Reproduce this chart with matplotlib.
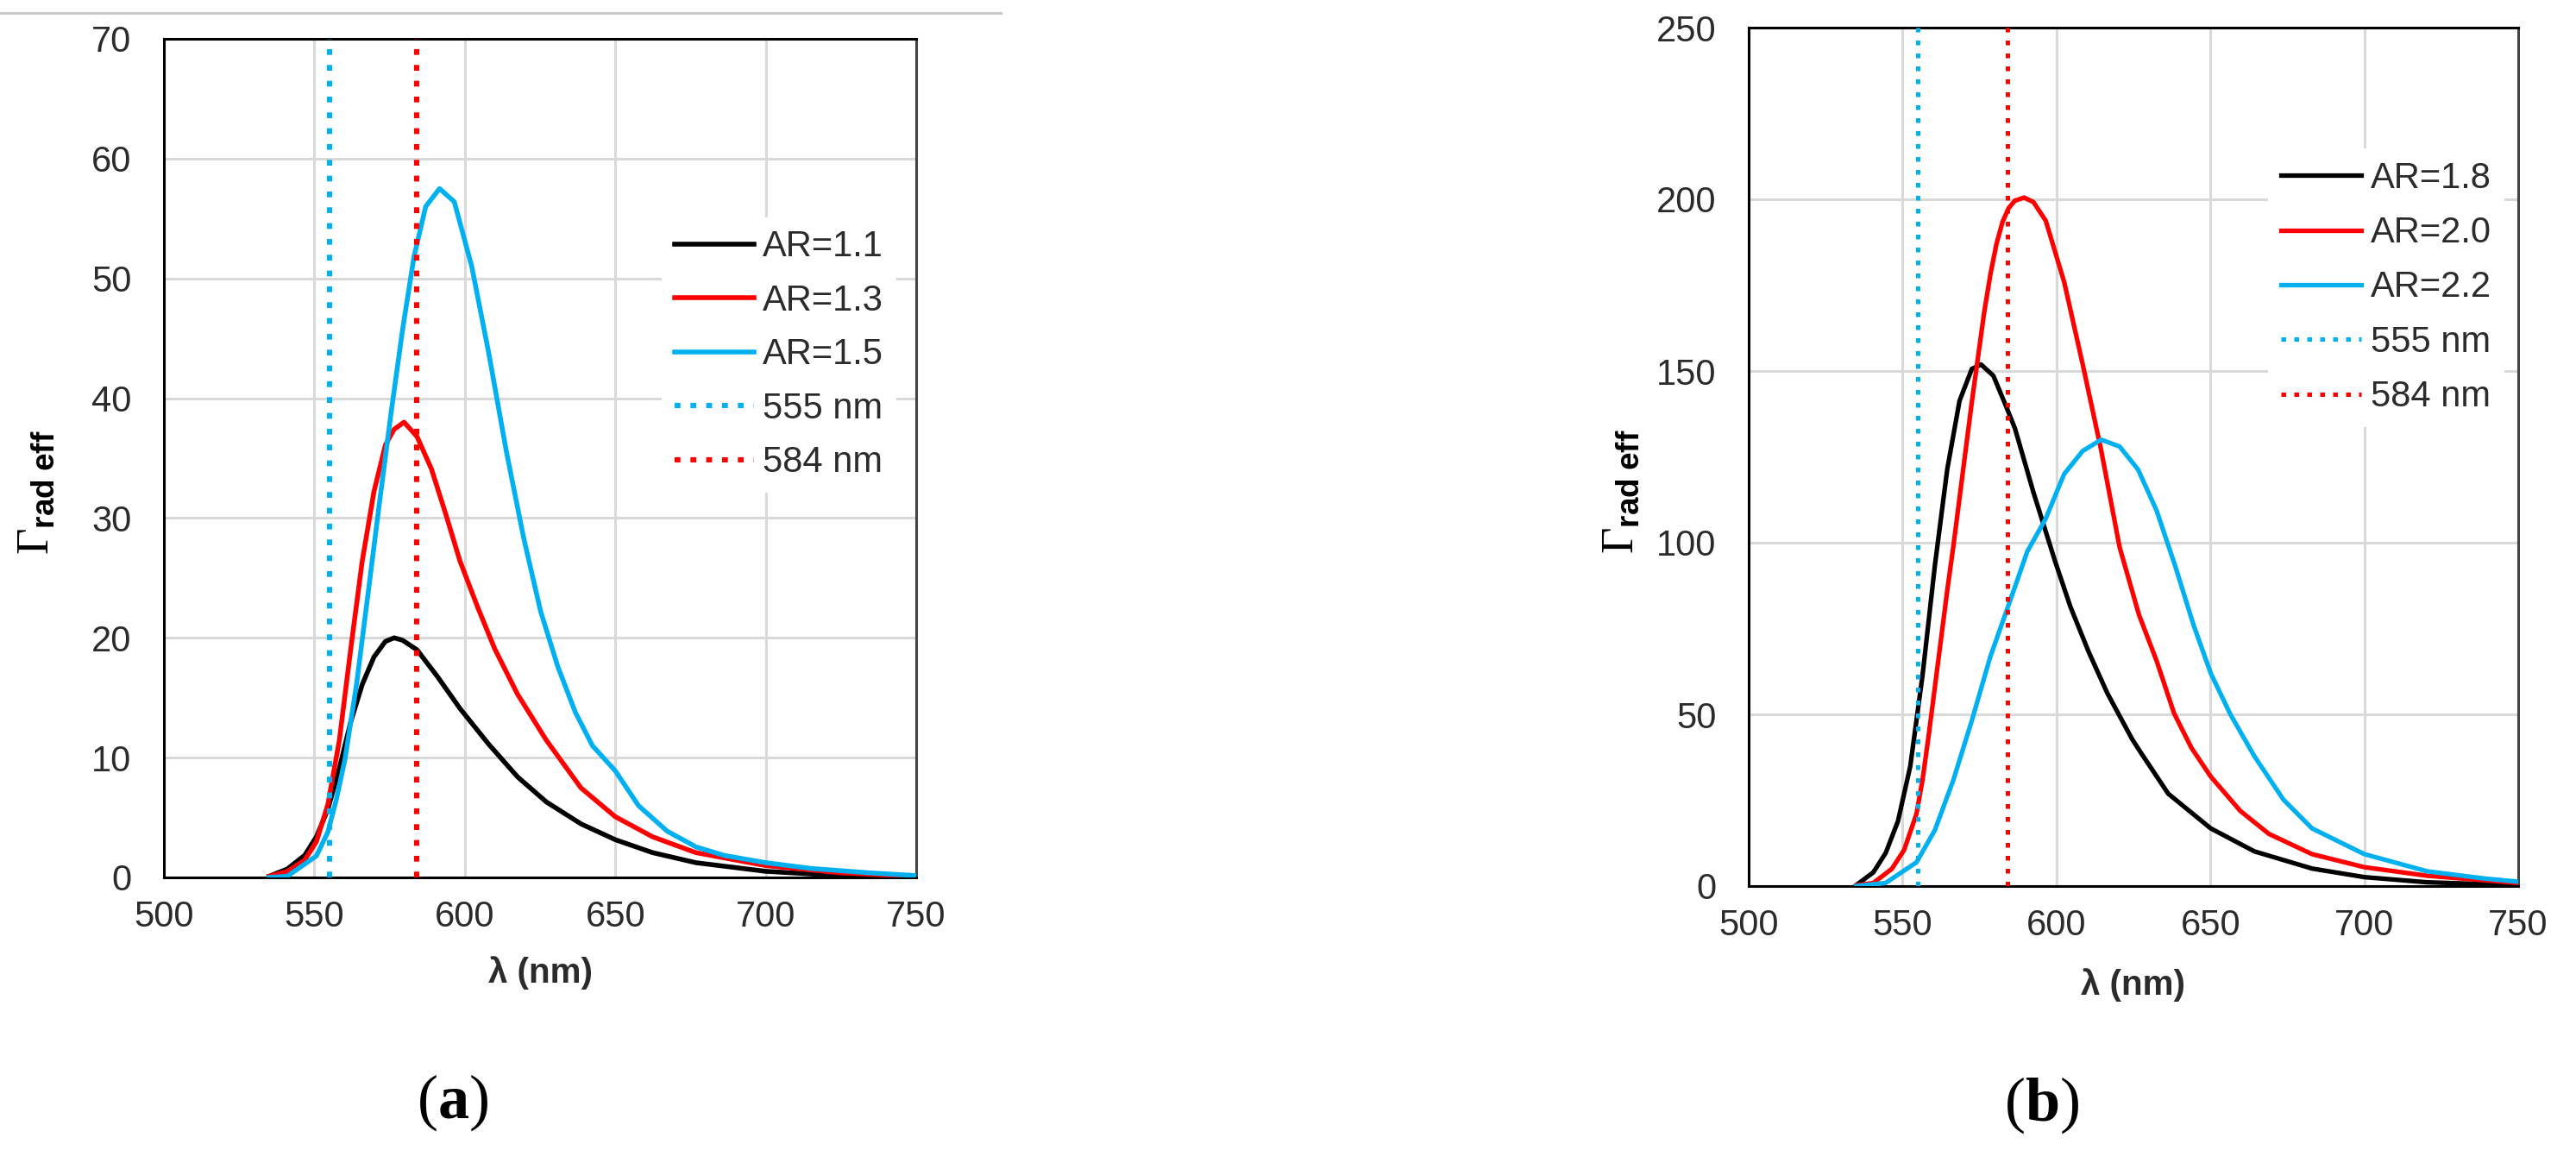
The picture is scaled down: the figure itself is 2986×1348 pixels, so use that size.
import numpy as np
import matplotlib.pyplot as plt
from matplotlib.lines import Line2D

# ---- data ----
# panel (a)
wl_a11 = [535, 541, 546.8, 550.7, 554.5, 558.3, 562.1, 565.9, 569.8, 573.6, 576.5, 579.3,
          584.1, 590.8, 598.4, 608, 617.5, 627.1, 638.6, 650, 662.4, 676.8, 700, 724.6, 750]
g_a11 = [0.1, 0.7, 1.85, 3.4, 5.7, 9.1, 13.0, 16.1, 18.4, 19.7, 20.0, 19.8,
         19.0, 16.8, 14.1, 11.1, 8.4, 6.3, 4.47, 3.15, 2.07, 1.23, 0.51, 0.15, 0.03]

wl_a13 = [535, 541, 546.8, 550.7, 554.5, 558.3, 562.1, 565.9, 569.8, 573.6, 576.5, 579.8,
          584.1, 588.9, 593.7, 598.4, 604.2, 609.9, 617.5, 627.1, 638.6, 650, 662.4, 676.8,
          700, 724.6, 750]
g_a13 = [0.1, 0.5, 1.45, 3.0, 6.1, 11.45, 19.1, 26.4, 32.2, 36.1, 37.4, 38.0,
         36.8, 34.1, 30.3, 26.4, 22.6, 19.1, 15.3, 11.45, 7.47, 5.07, 3.39, 2.07,
         0.99, 0.39, 0.08]

wl_a15 = [535, 541, 550.7, 554.5, 557.3, 560.2, 564, 567.9, 571.7, 575.5, 579.3, 583.1,
          587, 591.6, 596.5, 602.3, 608, 613.7, 619.5, 625.2, 630.9, 636.7, 642.4, 650,
          657.7, 667.2, 676.8, 686.3, 700, 715, 734, 750]
g_a15 = [0.0, 0.1, 1.8, 3.8, 6.5, 9.9, 16.1, 23.8, 31.4, 38.8, 45.7, 51.8,
         56.0, 57.5, 56.4, 51.0, 43.7, 35.7, 28.4, 22.2, 17.6, 13.8, 11.0, 8.9,
         6.0, 3.87, 2.55, 1.83, 1.23, 0.75, 0.39, 0.15]

# panel (b)
wl_b18 = [535, 540.5, 544.5, 548.5, 552.5, 556.5, 560.5, 564.5, 568.5, 572.5, 575.5, 579.5,
          583.5, 586.5, 592.5, 599.5, 604.5, 610.5, 616.5, 624.5, 627, 636.3, 650.1, 664.3,
          683, 700, 720.4, 749.8]
g_b18 = [0.3, 4.0, 9.6, 18.9, 34.9, 61.5, 93.4, 121.3, 141.3, 150.6, 151.9, 148.6,
         140, 133.3, 114.7, 94.7, 81.4, 68.1, 56.2, 42.9, 39.4, 26.9, 16.8, 10.1,
         5.1, 2.6, 1.1, 0.25]

wl_b20 = [535, 540.5, 546.5, 550.5, 554.5, 556.5, 558.5, 560.5, 562.5, 564.5, 566.5, 568.5,
          570.5, 572.5, 574.5, 576.5, 578.5, 580.5, 582.5, 584.5, 586.5, 589.5, 592.5, 596.5,
          602.5, 608.5, 614.5, 620.5, 626.8, 632.6, 638.2, 643.8, 650.1, 659.7, 669, 683,
          700, 720.4, 749.8]
g_b20 = [0.2, 0.9, 5.0, 10.5, 21, 31, 44, 58, 72, 86, 99, 113,
         127, 141, 154, 167, 178, 187, 193.5, 197.5, 199.6, 200.5, 199.2, 193.8,
         175.9, 152, 127, 98.7, 79, 65.4, 50.3, 40.3, 31.9, 21.9, 15.2, 9.3,
         5.5, 3.0, 0.9]

wl_b22 = [535, 544.5, 554.5, 560.5, 566.5, 572.5, 578.5, 584.5, 590.5, 596.5, 602.5, 608.5,
          614.5, 620.5, 626.5, 632.5, 638.5, 644.5, 650.1, 656.5, 664.3, 673.7, 683, 700,
          720.4, 739, 749.8]
g_b22 = [0.0, 0.9, 6.9, 16.3, 30.9, 48.2, 66.8, 82, 97.4, 107, 120, 126.7,
         130, 128, 121.3, 109.4, 93.4, 76.1, 62, 50, 37.8, 25.2, 16.8, 9.3,
         4.3, 2.2, 1.3]

labels_a = ["AR=1.1", "AR=1.3", "AR=1.5"]
labels_b = ["AR=1.8", "AR=2.0", "AR=2.2"]
marks = [555, 584]
mark_labels = ["555 nm", "584 nm"]

BLUE = "#00B0F0"
RED = "#FF0000"
BLACK = "#000000"

plt.rcParams['font.family'] = ['Liberation Sans', 'DejaVu Sans']
plt.rcParams['mathtext.fontset'] = 'custom'
plt.rcParams['mathtext.rm'] = 'Liberation Serif'
plt.rcParams['mathtext.it'] = 'Liberation Serif:italic'
plt.rcParams['mathtext.bf'] = 'Liberation Serif:bold'
plt.rcParams['mathtext.sf'] = 'Liberation Sans:bold'

W, H = 2986, 1348
fig = plt.figure(figsize=(W / 100, H / 100), dpi=100)


def px_axes(x0, y0, x1, y1):
    return fig.add_axes([x0 / W, 1 - y1 / H, (x1 - x0) / W, (y1 - y0) / H])


def style_panel(ax, ymax, ystep, lw, dot_lw, curves, labels, leg_anchor, handlelen, spacing):
    for (wl, g), col, lab in zip(curves, [BLACK, RED, BLUE], labels):
        ax.plot(wl, g, color=col, lw=lw, label=lab, solid_joinstyle='round', zorder=3)
    for m, col, lab in zip(marks, [BLUE, RED], mark_labels):
        ax.axvline(m, color=col, lw=dot_lw, linestyle=(0, (1.1, 1.9)),
                   dash_capstyle='butt', label=lab, zorder=4)
    ax.set_xlim(500, 750)
    ax.set_ylim(0, ymax)
    ax.set_xticks(np.arange(500, 751, 50))
    ax.set_yticks(np.arange(0, ymax + 1, ystep))
    ax.grid(True, color='#d9d9d9', lw=2.2)
    ax.set_axisbelow(True)
    ax.tick_params(length=0, labelsize=30, labelcolor='#2b2b2b')
    ax.tick_params(axis='y', pad=27)
    ax.tick_params(axis='x', pad=19)
    for s in ax.spines.values():
        s.set_linewidth(2.2)
        s.set_color('black')
    ax.spines['right'].set_color('#444444')
    leg = ax.legend(loc='center left', bbox_to_anchor=leg_anchor, frameon=True,
                    fontsize=30, handlelength=handlelen, handletextpad=0.25,
                    labelspacing=spacing, borderpad=0.35, borderaxespad=0)
    leg.get_frame().set_edgecolor('none')
    leg.get_frame().set_facecolor('white')
    leg.get_frame().set_alpha(1)
    leg.get_frame().set_boxstyle('square', pad=0)
    for t in leg.get_texts():
        t.set_color('#2b2b2b')


ax_a = px_axes(190, 45, 1062, 1017)
style_panel(ax_a, 70, 10, 4.0, 4.4,
            [(wl_a11, g_a11), (wl_a13, g_a13), (wl_a15, g_a15)],
            labels_a, (0.662, 0.623), 2.2, 0.54)

ax_b = px_axes(2027, 32, 2919, 1027)
style_panel(ax_b, 250, 50, 3.8, 3.6,
            [(wl_b18, g_b18), (wl_b20, g_b20), (wl_b22, g_b22)],
            labels_b, (0.675, 0.697), 2.25, 0.56)

# axis titles and panel tags
ylab = r'$\Gamma_{\mathsf{rad\ eff}}$'
fig.text(42 / W, 1 - 571 / H, ylab, rotation=90, ha='center', va='center', fontsize=38)
fig.text(1879 / W, 1 - 570 / H, ylab, rotation=90, ha='center', va='center', fontsize=38)
fig.text(626 / W, 1 - 1128 / H, "λ (nm)", ha='center', va='center',
         fontsize=29, fontweight='bold', color='#2b2b2b')
fig.text(2473 / W, 1 - 1142 / H, "λ (nm)", ha='center', va='center',
         fontsize=29, fontweight='bold', color='#2b2b2b')
fig.text(525 / W, 1 - 1278 / H, r'($\mathbf{a}$)', ha='center', va='center',
         fontsize=52, family='Liberation Serif')
fig.text(2367 / W, 1 - 1281 / H, r'($\mathbf{b}$)', ha='center', va='center',
         fontsize=52, family='Liberation Serif')

# thin grey rule across the top of panel (a)
fig.add_artist(Line2D([0, 1160 / W], [1 - 14.5 / H, 1 - 14.5 / H],
                      transform=fig.transFigure, color='#c8c8c8', lw=2.2))

fig.savefig("out.png", dpi=100)
